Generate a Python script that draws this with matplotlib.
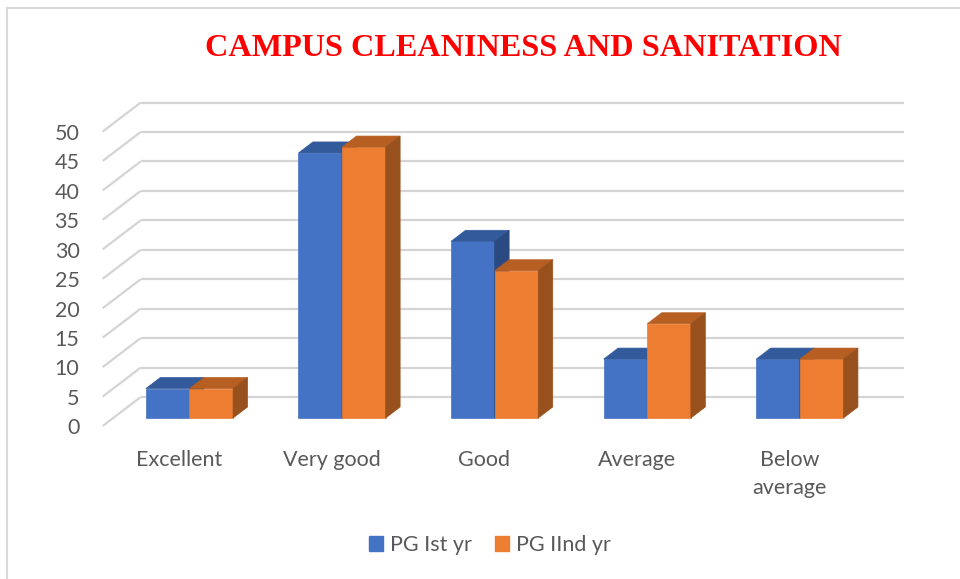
import matplotlib
matplotlib.use("Agg")
import matplotlib.pyplot as plt
from matplotlib.patches import Polygon, Patch
from matplotlib.lines import Line2D

categories = ["Excellent", "Very good", "Good", "Average", "Below\naverage"]
pg_1st = [5, 45, 30, 10, 10]
pg_2nd = [5, 46, 25, 16, 10]
series_names = ["PG Ist yr", "PG IInd yr"]
yticks = [0, 5, 10, 15, 20, 25, 30, 35, 40, 45, 50]

# colours: front / top / side
blue = ("#4472C4", "#335A9B", "#2B4A82")
orange = ("#ED7D31", "#B75E22", "#98501D")
grid_col = "#D4D4D4"
text_col = "#595959"

# oblique depth projection (data units per unit of depth)
ddx = 0.249
ddy = 4.92
z_bar = 0.276   # depth of bar front faces
dz = 0.38       # bar depth
bar_w = 0.2857

fig = plt.figure(figsize=(9.6, 5.79), dpi=100)
ax = fig.add_axes([0, 0, 1, 1])
ax.set_xlim(-1.173, 5.118)
ax.set_ylim(-25.98, 72.33)
ax.axis("off")

# back wall + side wall gridlines
for v in yticks:
    ax.plot([-0.5 + ddx, 4.5 + ddx], [v + ddy, v + ddy], color=grid_col, lw=1.6,
            solid_capstyle="butt", zorder=1)
    ax.plot([-0.5, -0.5 + ddx], [v, v + ddy], color=grid_col, lw=1.6,
            solid_capstyle="butt", zorder=1)
    ax.text(-0.652, v - 0.4, str(v), ha="right", va="center", fontsize=15.5,
            family="Lato", color=text_col)


def draw_bar(xc, val, cols, z):
    x0 = xc - bar_w / 2 + z_bar * ddx
    x1 = x0 + bar_w
    b = z_bar * ddy
    t = b + val
    ox, oy = dz * ddx, dz * ddy
    ax.bar(x0, val, width=bar_w, bottom=b, align="edge", color=cols[0],
           edgecolor=cols[0], lw=0.5, zorder=z)
    ax.add_patch(Polygon([(x0, t), (x1, t), (x1 + ox, t + oy), (x0 + ox, t + oy)],
                         closed=True, fc=cols[1], ec=cols[1], lw=0.5, zorder=z))
    ax.add_patch(Polygon([(x1, b), (x1, t), (x1 + ox, t + oy), (x1 + ox, b + oy)],
                         closed=True, fc=cols[2], ec=cols[2], lw=0.5, zorder=z))


for i in range(len(categories)):
    draw_bar(i - bar_w / 2, pg_1st[i], blue, 2 + 2 * i)
    draw_bar(i + bar_w / 2, pg_2nd[i], orange, 3 + 2 * i)
    ax.text(i, -4.1, categories[i], ha="center", va="top", fontsize=15.5,
            family="Lato", color=text_col, linespacing=1.5)

fig.text(523 / 960, 1 - 49 / 579, "CAMPUS CLEANINESS AND SANITATION",
         ha="center", va="center", fontsize=23.2, fontweight="bold",
         family="Liberation Serif", color="#FF0000")

handles = [Patch(color=blue[0]), Patch(color=orange[0])]
fig.legend(handles, series_names, loc="center", bbox_to_anchor=(490 / 960, 1 - 545 / 579),
           ncol=2, frameon=False, prop={"family": "Lato", "size": 15.5},
           handlelength=0.65, handleheight=0.65, handletextpad=0.3, columnspacing=1.1,
           labelcolor=text_col)

# chart frame (top and left edges visible)
fig.add_artist(Line2D([7 / 960, 7 / 960], [0, 1 - 8 / 579], transform=fig.transFigure,
                      color="#D9D9D9", lw=1.5))
fig.add_artist(Line2D([7 / 960, 1], [1 - 8 / 579, 1 - 8 / 579], transform=fig.transFigure,
                      color="#D9D9D9", lw=1.5))

fig.savefig("out.png", dpi=100)
